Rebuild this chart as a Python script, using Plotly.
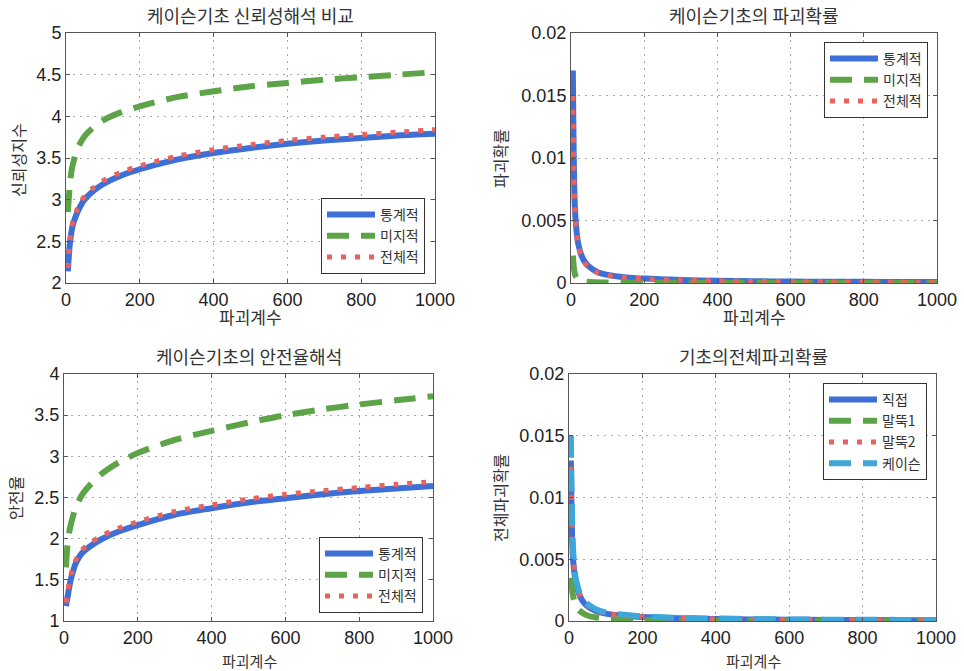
import plotly.graph_objects as go

W, H = 964, 671

# ---------------- data ----------------
x_n = [5, 10, 15, 20, 30, 40, 50, 70, 100, 150, 200, 300, 400, 500, 600, 700, 800, 900, 1000]

# 케이슨기초 신뢰성해석 비교 (reliability index)
beta_stat = [2.14, 2.45, 2.62, 2.72, 2.84, 2.93, 3.00, 3.09, 3.185, 3.29, 3.365, 3.48, 3.56, 3.62, 3.67, 3.71, 3.74, 3.77, 3.79]
beta_mij = [2.85, 3.15, 3.35, 3.45, 3.60, 3.69, 3.76, 3.85, 3.95, 4.05, 4.12, 4.23, 4.30, 4.36, 4.40, 4.44, 4.47, 4.50, 4.53]
beta_total = [2.18, 2.50, 2.66, 2.76, 2.88, 2.97, 3.04, 3.13, 3.225, 3.33, 3.405, 3.52, 3.60, 3.66, 3.71, 3.75, 3.78, 3.81, 3.84]

# 케이슨기초의 파괴확률 (failure probability)
pf_stat = [0.017, 0.0065, 0.0042, 0.0031, 0.0021, 0.0016, 0.0013, 0.0009, 0.00065, 0.00045, 0.00035, 0.00024, 0.00018, 0.00014, 0.00012, 0.0001, 0.00009, 0.00008, 0.00007]
pf_mij = [0.0022, 0.0008, 0.0004, 0.0003, 0.00016, 0.00011, 0.00008, 0.00006, 0.00004, 0.00003, 0.00002, 0.000015, 0.00001, 0.00001, 0.000008, 0.000007, 0.000007, 0.000006, 0.000006]
pf_total = [0.015, 0.0062, 0.0040, 0.0030, 0.0020, 0.0015, 0.0012, 0.00085, 0.0006, 0.00043, 0.00033, 0.00022, 0.00016, 0.00012, 0.0001, 0.00009, 0.00008, 0.00007, 0.00006]

# 케이슨기초의 안전율해석 (safety factor)
fs_stat = [1.18, 1.30, 1.43, 1.53, 1.68, 1.77, 1.83, 1.905, 1.99, 2.09, 2.165, 2.29, 2.37, 2.44, 2.49, 2.54, 2.58, 2.61, 2.64]
fs_mij = [1.65, 1.95, 2.10, 2.20, 2.36, 2.46, 2.54, 2.65, 2.78, 2.93, 3.04, 3.20, 3.31, 3.41, 3.50, 3.57, 3.63, 3.68, 3.73]
fs_total = [1.22, 1.35, 1.48, 1.58, 1.72, 1.81, 1.87, 1.945, 2.03, 2.13, 2.205, 2.33, 2.41, 2.48, 2.54, 2.58, 2.62, 2.66, 2.69]

# 기초의전체파괴확률 (total failure probability per foundation type)
pf_direct = [0.013, 0.0055, 0.0038, 0.0029, 0.0020, 0.0015, 0.0012, 0.00085, 0.0006, 0.00042, 0.00032, 0.00022, 0.00016, 0.00013, 0.00011, 0.00009, 0.00008, 0.00007, 0.00006]
pf_pile1 = [0.0035, 0.0022, 0.0015, 0.0011, 0.0008, 0.0006, 0.00045, 0.0003, 0.0002, 0.00013, 0.0001, 0.00007, 0.00005, 0.00004, 0.00003, 0.00003, 0.00002, 0.00002, 0.00002]
pf_pile2 = [0.0125, 0.0060, 0.0040, 0.0030, 0.0021, 0.0016, 0.0013, 0.0009, 0.00063, 0.00044, 0.00034, 0.00023, 0.00017, 0.00014, 0.00012, 0.0001, 0.00009, 0.00008, 0.00007]
pf_caisson = [0.015, 0.0065, 0.0042, 0.0032, 0.0022, 0.0017, 0.0014, 0.001, 0.0007, 0.0005, 0.00038, 0.00026, 0.0002, 0.00016, 0.00013, 0.00011, 0.0001, 0.00009, 0.00008]

x_ticks = [0, 200, 400, 600, 800, 1000]
names3 = ["통계적", "미지적", "전체적"]
names4 = ["직접", "말뚝1", "말뚝2", "케이슨"]
titles = ["케이슨기초 신뢰성해석 비교", "케이슨기초의 파괴확률", "케이슨기초의 안전율해석", "기초의전체파괴확률"]
ylabels = ["신뢰성지수", "파괴확률", "안전율", "전체파괴확률"]
xlabel = "파괴계수"

# ---------------- styles ----------------
BLUE = "#3d6fd6"
GREEN = "#5da448"
RED = "#e8635e"
CYAN = "#3ea6d8"
KFONT = "Noto Sans CJK KR"
NFONT = "Liberation Sans, Arial, sans-serif"
TXT = "#333333"

S_SOLID = dict(width=6, dash="solid")
S_DASH = dict(width=6, dash="22px,12px")
S_DOT = dict(width=5, dash="5px,9px")

fig = go.Figure()

def add(xa, ya, y, name, color, style, legend):
    fig.add_trace(go.Scatter(
        x=x_n, y=y, name=name, mode="lines",
        line=dict(color=color, shape="spline", smoothing=0.8, **style),
        xaxis=xa, yaxis=ya, legend=legend))

add("x", "y", beta_stat, names3[0], BLUE, S_SOLID, "legend")
add("x", "y", beta_mij, names3[1], GREEN, S_DASH, "legend")
add("x", "y", beta_total, names3[2], RED, S_DOT, "legend")

add("x2", "y2", pf_stat, names3[0], BLUE, S_SOLID, "legend2")
add("x2", "y2", pf_mij, names3[1], GREEN, S_DASH, "legend2")
add("x2", "y2", pf_total, names3[2], RED, S_DOT, "legend2")

add("x3", "y3", fs_stat, names3[0], BLUE, S_SOLID, "legend3")
add("x3", "y3", fs_mij, names3[1], GREEN, S_DASH, "legend3")
add("x3", "y3", fs_total, names3[2], RED, S_DOT, "legend3")

add("x4", "y4", pf_direct, names4[0], BLUE, S_SOLID, "legend4")
add("x4", "y4", pf_pile1, names4[1], GREEN, S_DASH, "legend4")
add("x4", "y4", pf_pile2, names4[2], RED, S_DOT, "legend4")
add("x4", "y4", pf_caisson, names4[3], CYAN, S_DASH, "legend4")

# panel pixel boxes: (left, right, top, bottom)
boxes = [(66, 435, 33, 283), (571, 937, 33, 283), (64, 433, 374, 621), (569, 936, 374, 621)]
yranges = [(2, 5, 0.5), (0, 0.02, 0.005), (1, 4, 0.5), (0, 0.02, 0.005)]

axis_common = dict(
    showline=True, linecolor="#555555", linewidth=1, mirror="ticks",
    ticks="inside", ticklen=4, tickcolor="#555555", automargin=False,
    showgrid=True, gridcolor="#a8a8a8", griddash="2px,5px", gridwidth=1,
    zeroline=False, tickfont=dict(family=NFONT, size=18, color="#222222"),
)

layout = {}
for i, ((l, r, t, b), (y0, y1, dy)) in enumerate(zip(boxes, yranges)):
    sfx = "" if i == 0 else str(i + 1)
    layout["xaxis" + sfx] = dict(axis_common, domain=[l / W, r / W], range=[0, 1000],
                                 tickvals=x_ticks, anchor="y" + sfx)
    layout["yaxis" + sfx] = dict(axis_common, domain=[1 - b / H, 1 - t / H], range=[y0, y1],
                                 dtick=dy, tick0=y0, anchor="x" + sfx)

legend_common = dict(bgcolor="white", bordercolor="#333333", borderwidth=1,
                     font=dict(family=KFONT, size=14, color=TXT), itemwidth=48,
                     tracegroupgap=0)
layout["legend"] = dict(legend_common, x=425 / W, y=1 - 274 / H, xanchor="right", yanchor="bottom")
layout["legend2"] = dict(legend_common, x=928 / W, y=1 - 42 / H, xanchor="right", yanchor="top")
layout["legend3"] = dict(legend_common, x=423 / W, y=1 - 613 / H, xanchor="right", yanchor="bottom")
layout["legend4"] = dict(legend_common, x=927 / W, y=1 - 383 / H, xanchor="right", yanchor="top")

ann = []
title_pos = [(250, 15), (754, 15), (249, 356), (753, 356)]
xlab_pos = [(250, 317, 17), (754, 317, 17), (249, 660, 15), (753, 660, 15)]
ylab_pos = [(18, 160), (500, 159), (15, 498), (500, 498)]
for i in range(4):
    tx, ty = title_pos[i]
    ann.append(dict(text=titles[i], x=tx / W, y=1 - ty / H, xref="paper", yref="paper",
                    showarrow=False, xanchor="center", yanchor="middle",
                    font=dict(family=KFONT, size=18, color=TXT)))
    lx, ly, fs = xlab_pos[i]
    ann.append(dict(text=xlabel, x=lx / W, y=1 - ly / H, xref="paper", yref="paper",
                    showarrow=False, xanchor="center", yanchor="middle",
                    font=dict(family=KFONT, size=fs, color=TXT)))
    px, py = ylab_pos[i]
    ann.append(dict(text=ylabels[i], x=px / W, y=1 - py / H, xref="paper", yref="paper",
                    showarrow=False, xanchor="center", yanchor="middle", textangle=-90,
                    font=dict(family=KFONT, size=16, color=TXT)))

fig.update_layout(**layout)
fig.update_layout(
    width=W, height=H, margin=dict(l=0, r=0, t=0, b=0, autoexpand=False),
    paper_bgcolor="white", plot_bgcolor="white",
    annotations=ann, showlegend=True,
)

post = ("document.documentElement.style.margin='0';"
        "document.body.style.margin='0';document.body.style.overflow='hidden';"
        "var d=document.getElementById('{plot_id}');"
        "d.style.position='fixed';d.style.left='0px';d.style.top='0px';")

fig.write_html("out.html", config={"displayModeBar": False}, post_script=post)
